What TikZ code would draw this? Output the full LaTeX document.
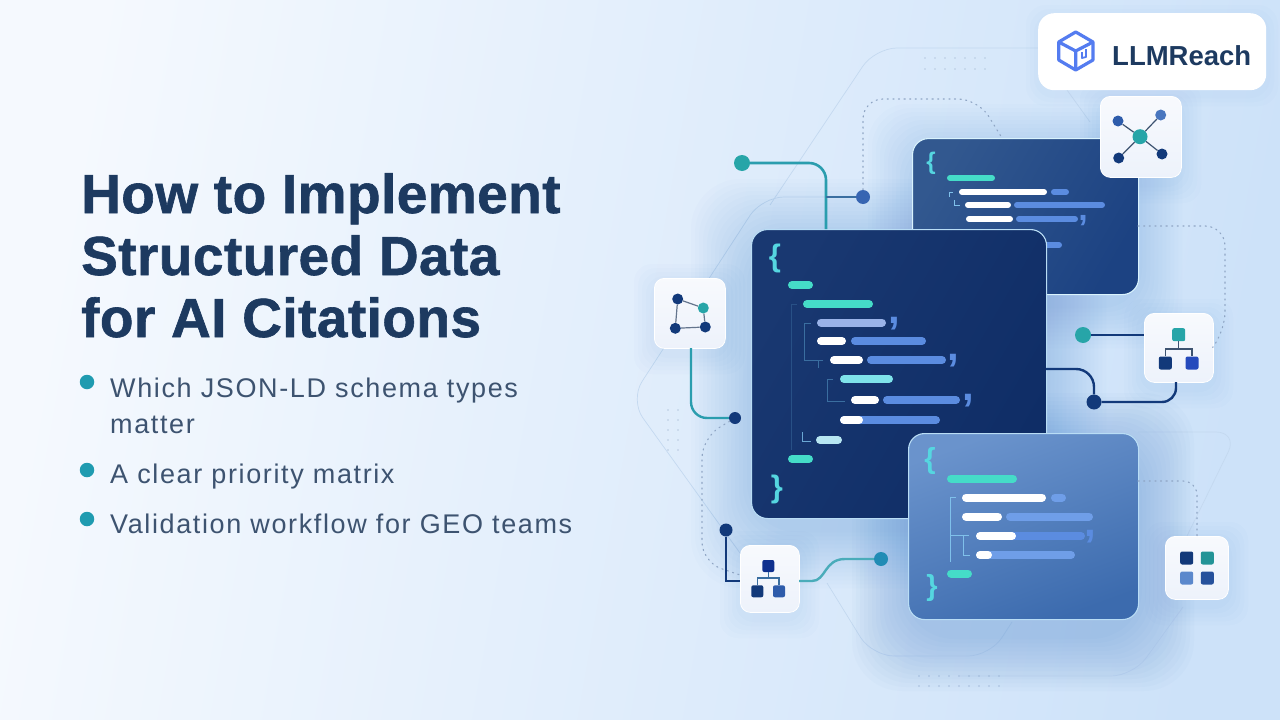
\documentclass[tikz,border=0pt]{standalone}
\usepackage{fontspec}
\setmainfont{Liberation Sans}
\newfontfamily\titlefont[LetterSpace=0.8,FakeBold=1.1]{Liberation Sans Bold}
\newfontfamily\bulletfont[LetterSpace=6]{Liberation Sans}
\usetikzlibrary{positioning}

\definecolor{inkblue}{HTML}{1D3A60}
\definecolor{inkgrey}{HTML}{3D5370}
\definecolor{bullet}{HTML}{1F9BB0}
\definecolor{navy}{HTML}{12397A}
\definecolor{midblue}{HTML}{2E5CAB}
\definecolor{softblue}{HTML}{5B88CC}
\definecolor{teal}{HTML}{27A5A8}
\definecolor{tealline}{HTML}{2A9DAE}
\definecolor{barteal}{HTML}{45DCC8}
\definecolor{barcyan}{HTML}{7FE3EA}
\definecolor{barpale}{HTML}{B7E6F2}
\definecolor{barperi}{HTML}{9AB3E8}
\definecolor{barblue}{HTML}{5B8CE0}
\definecolor{barsoft}{HTML}{6F9EE8}
\definecolor{treeline}{HTML}{3A6EA0}
\definecolor{treesoft}{HTML}{7FC0EA}
\definecolor{bracecol}{HTML}{55D6E0}
\definecolor{shadowcol}{HTML}{4A86CC}
\definecolor{hexline}{HTML}{C4D9F0}
\definecolor{dotcol}{HTML}{8FA5C4}
\definecolor{tilefill}{HTML}{EDF2FB}
\definecolor{bgleft}{HTML}{F5F9FE}
\definecolor{bgright}{HTML}{CDE2F9}
\definecolor{logoblue}{HTML}{547CF0}
\definecolor{mainedge}{HTML}{B9DDF5}
\definecolor{backa}{HTML}{32588F}
\definecolor{backb}{HTML}{1C4282}
\definecolor{maina}{HTML}{193871}
\definecolor{mainb}{HTML}{0F2D66}
\definecolor{fronta}{HTML}{6A93CC}
\definecolor{frontb}{HTML}{3C6BAE}

\tikzset{
  card/.style={draw=#1,line width=1.1pt,anchor=north west,inner sep=0pt,rounded corners=16pt},
  tile/.style={draw=white,line width=.8pt,top color=white!60!tilefill,bottom color=tilefill,
    anchor=north west,inner sep=0pt,rounded corners=10pt},
  bar/.style={line width=8pt,line cap=round},
  thinbar/.style={line width=6pt,line cap=round},
  ball/.style={circle,inner sep=0pt,minimum size=#1},
  sq/.style={inner sep=0pt,minimum size=#1,rounded corners=2pt},
  iconline/.style={draw=inkgrey,line width=1.2pt},
  dotline/.style={draw=dotcol,line width=1.1pt,dash pattern=on 1.2pt off 4.4pt,line cap=round,rounded corners=20pt},
  hex/.style={draw=hexline,line width=.7pt,rounded corners=22pt},
  tree/.style={draw=treeline,line width=.9pt},
}

\begin{document}
\begin{tikzpicture}[x=1pt,y=-1pt]
  \useasboundingbox (0,0) rectangle (1280,720);
  \shade[left color=bgleft,right color=bgright,shading angle=80] (0,0) rectangle (1280,720);

  % background outlines
  \draw[hex] (1060,48) -- (875,48) -- (770,205);
  \draw[hex] (1067,90) -- (1090,122);
  \draw[hex] (826,197) -- (762,197) -- (630,400) -- (745,560);
  \draw[hex] (827,583) -- (872,656) -- (990,656) -- (1012,622);
  \draw[hex] (1138,432) -- (1238,432) -- (1187,536);
  \draw[hex] (1183,607) -- (1133,676) -- (960,676);

  \foreach \x in {925,935,...,985}
    \foreach \y in {58,69}
      \fill[dotcol,opacity=.45] (\x,\y) circle (.8);
  \foreach \x in {919,929,...,1000}
    \foreach \y in {676,686}
      \fill[dotcol,opacity=.55] (\x,\y) circle (.8);
  \foreach \x in {668,678}
    \foreach \y in {410,420,...,450}
      \fill[dotcol,opacity=.5] (\x,\y) circle (.8);

  % shadows
  \foreach \s in {4,8,...,44}
    \fill[shadowcol,opacity=.018,rounded corners=40pt] (912-\s,138-\s+10) rectangle (1138+\s,294+\s+10);
  \foreach \s in {4,8,...,60}
    \fill[shadowcol,opacity=.018,rounded corners=50pt] (751-\s,229-\s+10) rectangle (1046+\s,518+\s+10);
  \foreach \s in {4,8,...,56}
    \fill[shadowcol,opacity=.026,rounded corners=50pt] (908-\s,433-\s+16) rectangle (1138+\s,619+\s+16);
  \foreach \xa/\ya/\xb/\yb in {654/278/725/348,1100/96/1181/177,1144/313/1213/382,740/545/799/612,1165/536/1228/599}
    \foreach \s in {4,8,...,20}
      \fill[shadowcol,opacity=.02,rounded corners=18pt] (\xa-\s,\ya-\s+6) rectangle (\xb+\s,\yb+\s+6);
  \foreach \s in {4,8,12}
    \fill[shadowcol,opacity=.016,rounded corners=20pt] (1038-\s,13-\s+4) rectangle (1266+\s,90+\s+4);

  % back card
  \node[card=white!85!cyan,left color=backa,right color=backb,shading angle=60,
    minimum width=226pt,minimum height=156pt] (backcard) at (912,138) {};
  \begin{scope}[thinbar]
    \foreach \xa/\xb/\y/\col in {947/995/178/barteal,959/1047/192/white,1051/1069/192/barblue,
      965/1011/205/white,1014/1105/205/barblue,966/1013/219/white,1016/1078/219/barblue,
      1030/1062/245/barblue}
      \draw[color=\col] (\xa+3,\y) -- (\xb-3,\y);
  \end{scope}
  \draw[treesoft,line width=.9pt] (949,197) -- (949,192) -- (953,192);
  \draw[treesoft,line width=.9pt] (954,200) -- (954,205) -- (960,205);
  \node[inner sep=0pt,text=bracecol,font=\fontsize{24}{24}\selectfont\bfseries] (backopen) at (931,163) {\{};
  \node[inner sep=0pt,text=barblue,font=\fontsize{34}{34}\selectfont\bfseries] (backcomma) at (1083,221) {,};

  % main card
  \node[card=mainedge,left color=maina,right color=mainb,shading angle=60,
    minimum width=295pt,minimum height=289pt] (maincard) at (751,229) {};
  \begin{scope}[bar]
    \foreach \xa/\xb/\y/\col in {788/813/285/barteal,803/873/304/barteal,817/886/322.5/barperi,
      851/926/341/barblue,817/846/341/white,867/946/360/barblue,830/863/360/white,
      840/893/379/barcyan,883/960/400/barblue,851/879/400/white,840/940/420/barblue,840/863/420/white,
      816/842/440/barpale,788/813/459/barteal}
      \draw[color=\col] (\xa+4,\y) -- (\xb-4,\y);
  \end{scope}
  \begin{scope}[tree]
    \draw[treeline!45!maina] (791,450) -- (791,304) -- (797,304);
    \draw (811,323) -- (804,323) -- (804,360) -- (823,360);
    \draw (818,360) -- (818,368);
    \draw (833,379) -- (827,379) -- (827,401) -- (845,401);
    \draw[treesoft!70!treeline] (802,432) -- (802,441) -- (811,441);
  \end{scope}
  \node[inner sep=0pt,text=bracecol,font=\fontsize{31}{31}\selectfont\bfseries] (mainopen) at (775,258) {\{};
  \node[inner sep=0pt,text=bracecol,font=\fontsize{31}{31}\selectfont\bfseries] (mainclose) at (777,489) {\}};
  \foreach \n/\x/\y in {a/894/324,b/953/361,c/968/401}
    \node[inner sep=0pt,text=barblue,font=\fontsize{42}{42}\selectfont\bfseries] (maincomma\n) at (\x,\y) {,};

  % front card
  \node[card=mainedge,left color=fronta,right color=frontb,shading angle=20,
    minimum width=230pt,minimum height=186pt] (frontcard) at (908,433) {};
  \begin{scope}[bar]
    \foreach \xa/\xb/\y/\col in {947/1017/478.5/barteal,962/1046/497.5/white,1051/1066/497.5/barsoft,
      962/1002/516.5/white,1006/1093/516.5/barsoft,976/1085/536/barblue,976/1016/536/white,
      976/1075/555/barsoft,976/992/555/white,947/972/573.5/barteal}
      \draw[color=\col] (\xa+4,\y) -- (\xb-4,\y);
  \end{scope}
  \begin{scope}[tree,draw=treesoft]
    \draw (956,497) -- (950,497) -- (950,535) -- (969,535);
    \draw (963,535) -- (963,555) -- (970,555);
    \draw (950,535) -- (950,562);
  \end{scope}
  \node[inner sep=0pt,text=bracecol,font=\fontsize{29}{29}\selectfont\bfseries] (frontopen) at (930,461) {\{};
  \node[inner sep=0pt,text=bracecol,font=\fontsize{29}{29}\selectfont\bfseries] (frontclose) at (932,588) {\}};
  \node[inner sep=0pt,text=barblue,font=\fontsize{42}{42}\selectfont\bfseries] (frontcomma) at (1090,537) {,};

  % tiles
  \node[tile,minimum width=71pt,minimum height=70pt] (tileleft) at (654,278) {};
  \node[tile,minimum width=81pt,minimum height=81pt] (tilenet) at (1100,96) {};
  \node[tile,minimum width=69pt,minimum height=69pt] (tileright) at (1144,313) {};
  \node[tile,minimum width=59pt,minimum height=67pt] (tilelow) at (740,545) {};
  \node[tile,minimum width=63pt,minimum height=63pt] (tilegrid) at (1165,536) {};

  % network icon
  \node[ball=15pt,fill=teal] (nethub) at (1140,136.7) {};
  \node[ball=11pt,fill=midblue] (neta) at (1118,121) {};
  \node[ball=11pt,fill=softblue!60!midblue] (netb) at (1160.7,115) {};
  \node[ball=11pt,fill=navy] (netc) at (1118.7,158) {};
  \node[ball=11pt,fill=navy] (netd) at (1162,154) {};
  \foreach \n in {neta,netb,netc,netd}
    \draw[iconline] (nethub) -- (\n);

  % ring icon
  \node[ball=11pt,fill=navy] (ringa) at (677.7,299) {};
  \node[ball=11pt,fill=teal] (ringb) at (703.3,308) {};
  \node[ball=11pt,fill=navy] (ringc) at (675.3,328.3) {};
  \node[ball=11pt,fill=navy] (ringd) at (705.3,327) {};
  \draw[iconline,draw=inkgrey!80] (ringa) -- (ringb) (ringb) -- (ringd) (ringd) -- (ringc) (ringc) -- (ringa);

  % tree icons
  \node[sq=13pt,fill=teal] (orgtop) at (1178.7,334.7) {};
  \node[sq=13pt,fill=navy] (orgl) at (1165.3,363) {};
  \node[sq=13pt,fill=midblue!80!blue] (orgr) at (1192,363) {};
  \draw[iconline] (orgtop.south) -- (1178.7,349);
  \draw[iconline] (orgl.north) |- (1178.7,349) -| (orgr.north);
  \node[sq=12pt,fill=navy!85!blue] (lowtop) at (768.3,566) {};
  \node[sq=12pt,fill=navy] (lowl) at (757.3,591.3) {};
  \node[sq=12pt,fill=midblue] (lowr) at (779,591.3) {};
  \draw[iconline,draw=treeline] (lowtop.south) -- (768.3,578);
  \draw[iconline,draw=treeline] (lowl.north) |- (768.3,578) -| (lowr.north);

  % grid icon
  \node[sq=13pt,fill=navy] (grida) at (1186.7,558) {};
  \node[sq=13pt,fill=teal!90!black] (gridb) at (1207.3,558) {};
  \node[sq=13pt,fill=softblue] (gridc) at (1186.7,578) {};
  \node[sq=13pt,fill=midblue!70!navy] (gridd) at (1207.3,578) {};

  % connector dots
  \node[ball=16pt,fill=teal] (dottop) at (742,163) {};
  \node[ball=14pt,fill=midblue!80!softblue] (dotbranch) at (863,197) {};
  \node[ball=12pt,fill=navy] (dotleft) at (735,418) {};
  \node[ball=16pt,fill=teal] (dotright) at (1083,335) {};
  \node[ball=15pt,fill=navy] (dotjoin) at (1094,402) {};
  \node[ball=13pt,fill=navy] (dotlow) at (726,530) {};
  \node[ball=14pt,fill=teal!85!blue] (dotcurve) at (881,559) {};

  \coordinate (mainfoot) at (826,229);
  \coordinate (branchfoot) at (826,197);
  \coordinate (mainside) at (1046,369);
  \coordinate (tilerightfoot) at (1176,382);
  \coordinate (leftfoot) at (691,348);
  \coordinate (lowin) at (740,581);
  \coordinate (lowout) at (799,581);
  \coordinate (dotsa) at (1002,138);
  \coordinate (dotsb) at (1138,226);
  \coordinate (dotsc) at (1213,347);
  \coordinate (dotsd) at (1138,481);
  \coordinate (dotse) at (1197,536);
  \coordinate (dotsf) at (740,575);

  % dotted connectors
  \draw[dotline] (dotbranch) -- (863,99) -- (978,99) -- (dotsa);
  \draw[dotline] (dotsb) -- (1225,226) -- (1225,332) -- (dotsc);
  \draw[dotline,rounded corners=14pt] (dotsd) -- (1197,481) -- (dotse);
  \draw[dotline] (dotleft) -- (702,438) -- (702,562) -- (dotsf);

  % solid connectors
  \draw[tealline,line width=2.6pt,rounded corners=17pt] (dottop) -| (mainfoot);
  \draw[treeline,line width=2pt] (branchfoot) -- (dotbranch);
  \draw[tealline,line width=2.4pt,rounded corners=16pt] (leftfoot) |- (dotleft);
  \draw[navy,line width=2.4pt] (dotright) -- (tileright.west |- dotright);
  \draw[navy,line width=2.4pt,rounded corners=18pt] (mainside) -| (dotjoin);
  \draw[navy,line width=2.4pt,rounded corners=14pt] (dotjoin) -| (tilerightfoot);
  \draw[navy,line width=2.6pt] (dotlow) |- (lowin);
  \draw[tealline!85!white,line width=2.4pt] (lowout) -- (812,581)
    .. controls (826,581) and (824,559) .. (845,559) -- (dotcurve);

  % logo box
  \node[fill=white,anchor=north west,inner sep=0pt,rounded corners=16pt,minimum width=228pt,minimum height=77pt] (logobox) at (1038,13) {};
  \begin{scope}[draw=logoblue,line width=3.2pt,line join=round]
    \draw (1075.7,32) -- (1093,42) -- (1093,60) -- (1075.7,70) -- (1058.7,60) -- (1058.7,42) -- cycle;
    \draw (1058.7,42) -- (1075.7,51) -- (1093,42) (1075.7,51) -- (1075.7,70);
    \draw[line width=1.8pt] (1082,52) -- (1082,58) -- (1086,57) -- (1086,49);
  \end{scope}
  \node[anchor=base west,inner sep=0pt,text=inkblue,font=\fontsize{27.5}{30}\selectfont\bfseries] (logotext) at (1112,65) {LLMReach};

  % title and list
  \begin{scope}[text=inkblue,font=\fontsize{55}{62}\selectfont\titlefont]
    \node[anchor=base west,inner sep=0pt] (titlea) at (81,213) {How to Implement};
    \node[anchor=base west,inner sep=0pt] (titleb) at (81,275) {Structured Data};
    \node[anchor=base west,inner sep=0pt] (titlec) at (81,337) {for AI Citations};
  \end{scope}
  \begin{scope}[text=inkgrey,font=\fontsize{27}{33}\selectfont\bulletfont]
    \node[anchor=base west,inner sep=0pt] (lista) at (110,397) {Which JSON-LD schema types};
    \node[anchor=base west,inner sep=0pt] (listb) at (110,433) {matter};
    \node[anchor=base west,inner sep=0pt] (listc) at (110,483) {A clear priority matrix};
    \node[anchor=base west,inner sep=0pt] (listd) at (110,533) {Validation workflow for GEO teams};
  \end{scope}
  \foreach \n/\y in {a/382,c/470,d/519}
    \node[ball=14.5pt,fill=bullet] (bullet\n) at (87,\y) {};
\end{tikzpicture}
\end{document}
